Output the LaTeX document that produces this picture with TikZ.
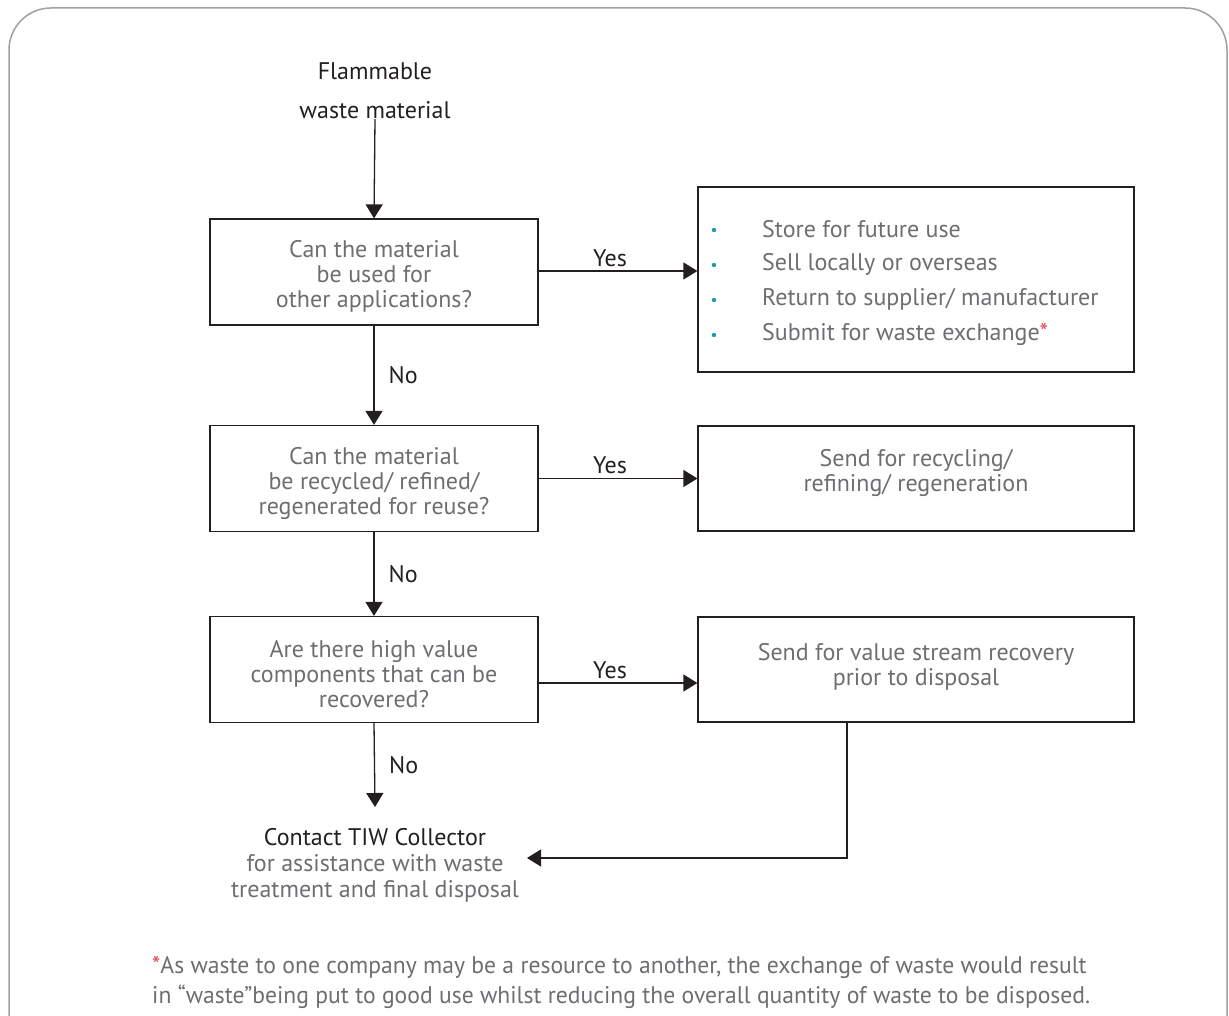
\documentclass[tikz,border=0pt]{standalone}
\usepackage{fontspec}
\setmainfont{PT Sans}
\newfontfamily\condfont[FakeStretch=0.985]{PT Sans}
\usetikzlibrary{arrows.meta}
\definecolor{txtgray}{HTML}{6D6E71}
\definecolor{txtdark}{HTML}{231F20}
\definecolor{bullteal}{HTML}{1A9BA8}
\definecolor{astred}{HTML}{E8434F}
\definecolor{framegray}{HTML}{A0A0A0}
\newcommand{\firstup}{\rule{0pt}{26pt}}
\tikzset{
  qbox/.style={draw=txtdark, line width=1.2pt, minimum width=328pt, minimum height=106pt, align=center, text=txtgray, font=\fontsize{24}{25}\selectfont, inner sep=0pt},
  rbox/.style={draw=txtdark, line width=1.2pt, minimum width=436pt, align=center, text=txtgray, font=\fontsize{24}{25}\selectfont, inner sep=0pt},
  conn/.style={draw=txtdark, line width=1.3pt, -{Triangle[length=14pt,width=17pt]}},
  lbl/.style={text=txtdark, font=\fontsize{24}{25}\selectfont, inner sep=0pt},
}
\begin{document}
\begin{tikzpicture}[x=1pt,y=-1pt]
\useasboundingbox (0,0) rectangle (1229,1016);
\draw[framegray, line width=1.5pt, rounded corners=42pt] (9,1060) -- (9,8) -- (1227,8) -- (1227,1060);
% start
\node[lbl, align=center, font=\fontsize{24}{39}\selectfont] (start) at (375,91) {Flammable\\waste material};
% question boxes
\node[qbox] (q1) at (374,272) {\firstup Can the material\\be used for\\other applications?};
\node[qbox] (q2) at (374,478.5) {\rule{0pt}{28pt}Can the material\\be recycled/ refined/\\regenerated for reuse?};
\node[qbox] (q3) at (374,669.5) {\firstup Are there high value\\components that can be\\recovered?};
% right boxes
\node[rbox, minimum height=185pt] (r1) at (916,279.5) {};
\node[rbox, minimum height=105pt] (r2) at (916,478.5) {Send for recycling/\\refining/ regeneration\rule[-17pt]{0pt}{0pt}};
\node[rbox, minimum height=105pt] (r3) at (916,669.5) {Send for value stream recovery\\prior to disposal\rule[-11pt]{0pt}{0pt}};
% bullets
\foreach \t [count=\i] in {Store for future use, Sell locally or overseas, Return to supplier/ manufacturer, Submit for waste exchange{\color{astred}*}} {
  \node[anchor=west, text=txtgray, font=\fontsize{24}{25}\selectfont, inner sep=0pt] (b\i) at (762,194+35*\i) {\t};
  \fill[bullteal] (714,195+35*\i) circle (2.2pt);
}
% end
\node[align=center, inner sep=0pt, font=\fontsize{24}{26}\selectfont] (end) at (375,865) {\textcolor{txtdark}{Contact TIW Collector}\\\textcolor{txtgray}{for assistance with waste}\\\textcolor{txtgray}{treatment and final disposal}};
% connectors
\draw[conn] (start.south) -- (q1.north);
\draw[conn] (q1.south) -- node[lbl, right=14pt, pos=0.5] {No} (q2.north);
\draw[conn] (q2.south) -- node[lbl, right=14pt, pos=0.5] {No} (q3.north);
\coordinate (endtop) at (375,807);
\draw[conn] (q3.south) -- node[lbl, right=14pt, pos=0.5] {No} (endtop);
\draw[conn] (q1.east |- 0,271) -- node[lbl, above=4pt, xshift=-8pt] {Yes} (r1.west |- 0,271);
\draw[conn] (q2.east) -- node[lbl, above=4pt, xshift=-8pt] {Yes} (r2.west);
\draw[conn] (q3.east |- 0,683) -- node[lbl, above=4pt, xshift=-8pt] {Yes} (r3.west |- 0,683);
\coordinate (endin) at (527,858);
\draw[conn] (r3.south -| 847,0) |- (endin);
% footnote
\node[anchor=west, inner sep=0pt, text=txtgray, font=\condfont\fontsize{24}{30}\selectfont, align=left] (foot) at (152,982) {{\color{astred}*}As waste to one company may be a resource to another, the exchange of waste would result\\in “waste”being put to good use whilst reducing the overall quantity of waste to be disposed.};
\end{tikzpicture}
\end{document}
